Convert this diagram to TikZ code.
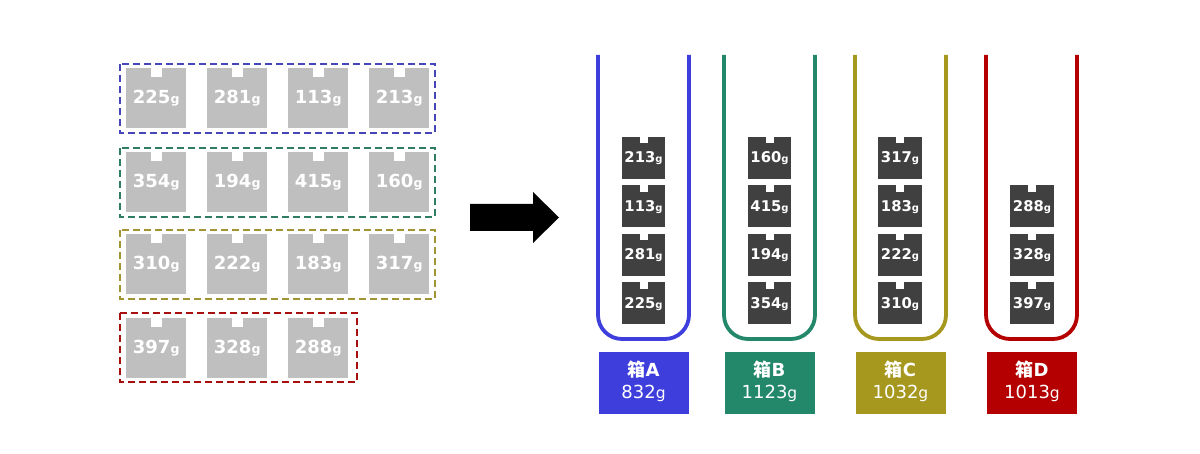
\documentclass[tikz,border=0pt]{standalone}
\usepackage{fontspec}
\setmainfont{DejaVu Sans}
\newfontfamily\cjk{Noto Sans CJK JP}
\usetikzlibrary{calc}
\definecolor{grayc}{HTML}{BFBFBF}
\definecolor{darkc}{HTML}{404040}
\definecolor{colA}{HTML}{3E3EDD}
\definecolor{colB}{HTML}{23876A}
\definecolor{colC}{HTML}{A6971E}
\definecolor{colD}{HTML}{B40000}
\definecolor{dashA}{HTML}{4646B8}
\definecolor{dashB}{HTML}{2E7D62}
\definecolor{dashC}{HTML}{A09530}
\definecolor{dashD}{HTML}{A81010}
\tikzset{
  gboxst/.style={fill=grayc, draw=none, minimum width=60pt, minimum height=60pt, inner sep=0pt, anchor=north west},
  gtext/.style={anchor=base, text=white, inner sep=0pt, font=\fontsize{18}{20}\selectfont\bfseries},
  dboxst/.style={fill=darkc, draw=none, minimum width=43.5pt, minimum height=42pt, inner sep=0pt, anchor=north},
  dtext/.style={anchor=base, text=white, inner sep=0pt, font=\fontsize{14.8}{16}\selectfont\bfseries},
  labbox/.style={draw=none, minimum width=90pt, minimum height=62pt, inner sep=0pt, anchor=north},
  labtop/.style={anchor=base, text=white, inner sep=0pt, font=\fontsize{18}{20}\selectfont\bfseries},
  labbot/.style={anchor=base, text=white, inner sep=0pt, font=\fontsize{18}{20}\selectfont},
  dashbox/.style={dashed, dash pattern=on 7pt off 4pt, line width=2pt},
  tube/.style={line width=3.8pt, rounded corners=24pt}
}
\newcommand\gbox[4]{%
  \node[gboxst] (#1) at ({#2},{#3}) {};
  \fill[white] ($(#1.north)+(-5.5,0)$) rectangle ++(11,9);
  \node[gtext] (#1t) at ($(#1.north)+(0,35.7)$) {#4{\fontsize{12.5}{13}\selectfont g}};
}
\newcommand\dbox[4]{%
  \node[dboxst] (#1) at ({#2},{#3}) {};
  \fill[white] ($(#1.north)+(-4,0)$) rectangle ++(8,7);
  \node[dtext] (#1t) at ($(#1.north)+(0,26.5)$) {#4{\fontsize{10}{11}\selectfont g}};
}
\newcommand\labbox[5]{%
  \node[labbox, fill=#3] (#1) at ({#2},351.5) {};
  \node[labtop] (#1a) at ($(#1.north)+(0,24.8)$) {{\cjk\bfseries 箱}#4};
  \node[labbot] (#1b) at ($(#1.north)+(0,47)$) {#5{\fontsize{15.5}{16}\selectfont g}};
}
\newcommand\tubeat[2]{%
  \draw[tube, #2] ({#1-45.5},55) -- ({#1-45.5},339) -- ({#1+45.5},339) -- ({#1+45.5},55);
}
\begin{document}
\begin{tikzpicture}[x=1pt,y=-1pt]
\useasboundingbox (0,0) rectangle (1200,454);
% left: gray packages
\gbox{a1}{126}{68}{225}
\gbox{a2}{207}{68}{281}
\gbox{a3}{288}{68}{113}
\gbox{a4}{369}{68}{213}
\gbox{b1}{126}{152}{354}
\gbox{b2}{207}{152}{194}
\gbox{b3}{288}{152}{415}
\gbox{b4}{369}{152}{160}
\gbox{c1}{126}{234}{310}
\gbox{c2}{207}{234}{222}
\gbox{c3}{288}{234}{183}
\gbox{c4}{369}{234}{317}
\gbox{d1}{126}{318}{397}
\gbox{d2}{207}{318}{328}
\gbox{d3}{288}{318}{288}
% dashed groups
\draw[dashbox, dashA] (120,64) rectangle (435,133);
\draw[dashbox, dashB] (120,148) rectangle (435,217);
\draw[dashbox, dashC] (120,230) rectangle (435,299);
\draw[dashbox, dashD] (120,313) rectangle (357,382);
% arrow
\fill[black] (470,204) -- (533,204) -- (533,192) -- (559,217.5) -- (533,243) -- (533,231) -- (470,231) -- cycle;
% tubes
\tubeat{643.5}{colA}
\tubeat{769.5}{colB}
\tubeat{900.5}{colC}
\tubeat{1031.5}{colD}
% dark packages
\dbox{pa1}{643.5}{136.5}{213}
\dbox{pa2}{643.5}{185}{113}
\dbox{pa3}{643.5}{233.5}{281}
\dbox{pa4}{643.5}{282}{225}
\dbox{pb1}{769.5}{136.5}{160}
\dbox{pb2}{769.5}{185}{415}
\dbox{pb3}{769.5}{233.5}{194}
\dbox{pb4}{769.5}{282}{354}
\dbox{pc1}{900}{136.5}{317}
\dbox{pc2}{900}{185}{183}
\dbox{pc3}{900}{233.5}{222}
\dbox{pc4}{900}{282}{310}
\dbox{pd2}{1032}{185}{288}
\dbox{pd3}{1032}{233.5}{328}
\dbox{pd4}{1032}{282}{397}
% labels
\labbox{la}{643.5}{colA}{A}{832}
\labbox{lb}{769.5}{colB}{B}{1123}
\labbox{lc}{900.5}{colC}{C}{1032}
\labbox{ld}{1032}{colD}{D}{1013}
\end{tikzpicture}
\end{document}
